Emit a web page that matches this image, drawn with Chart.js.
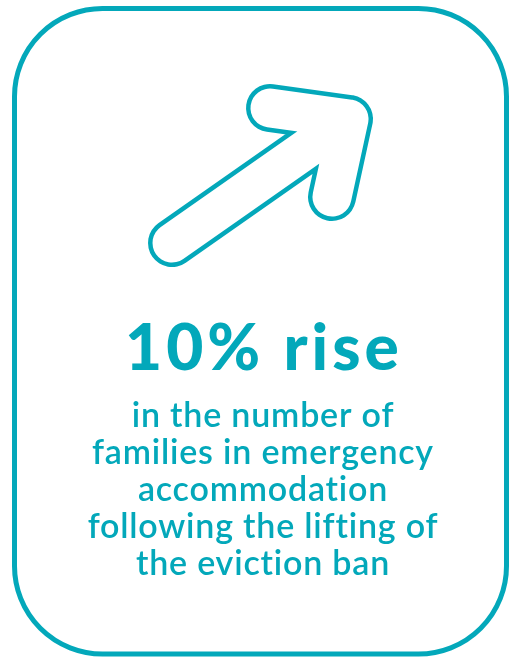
<!DOCTYPE html>
<html>
<head>
<meta charset="utf-8">
<script src="https://cdn.jsdelivr.net/npm/chart.js@4/dist/chart.umd.min.js"></script>
<style>
  html, body { margin: 0; padding: 0; background: #ffffff; }
  #stat { display: block; }
</style>
</head>
<body>
<canvas id="stat" width="509" height="657"></canvas>
<script>
// stat card values
var statValue = [10];
var statUnit = ['% rise'];
var captionLines = [
    'in the number of',
    'families in emergency',
    'accommodation',
    'following the lifting of',
    'the eviction ban'
];

var teal = '#03a8ba';

// draws the card, arrow icon and text
var cardPlugin = {
    id: 'card',
    beforeDraw: function (chart) {
        var ctx = chart.ctx;
        ctx.save();
        ctx.fillStyle = '#ffffff';
        ctx.fillRect(0, 0, chart.width, chart.height);

        // rounded frame
        ctx.strokeStyle = teal;
        ctx.lineWidth = 5;
        ctx.beginPath();
        ctx.roundRect(14.5, 8.5, 492, 645.5, 88);
        ctx.stroke();

        // arrow icon: thick teal stroke then white stroke on top = outline
        var arrow = function (w, col) {
            ctx.strokeStyle = col;
            ctx.lineWidth = w;
            ctx.lineCap = 'round';
            ctx.lineJoin = 'round';
            ctx.beginPath();
            ctx.moveTo(172, 243);
            ctx.lineTo(349, 119);
            ctx.moveTo(270, 108);
            ctx.lineTo(349, 119);
            ctx.lineTo(332, 197);
            ctx.stroke();
        };
        arrow(48, teal);
        arrow(39, '#ffffff');

        // headline
        ctx.fillStyle = teal;
        ctx.textAlign = 'center';
        ctx.textBaseline = 'alphabetic';
        ctx.font = '900 64px Lato';
        ctx.letterSpacing = '4px';
        ctx.fillText(statValue[0] + statUnit[0], 264, 370);

        // caption
        ctx.font = '600 34px Lato';
        ctx.letterSpacing = '0.8px';
        captionLines.forEach(function (line, i) {
            ctx.fillText(line, 263, 426.5 + i * 37);
        });
        ctx.restore();
    }
};

new Chart(document.getElementById('stat'), {
    type: 'bar',
    data: {
        labels: [''],
        datasets: [{ data: [], backgroundColor: teal }]
    },
    options: {
        responsive: false,
        animation: false,
        layout: { padding: 0 },
        plugins: { legend: { display: false }, tooltip: { enabled: false } },
        scales: { x: { display: false }, y: { display: false } }
    },
    plugins: [cardPlugin]
});
</script>
</body>
</html>
